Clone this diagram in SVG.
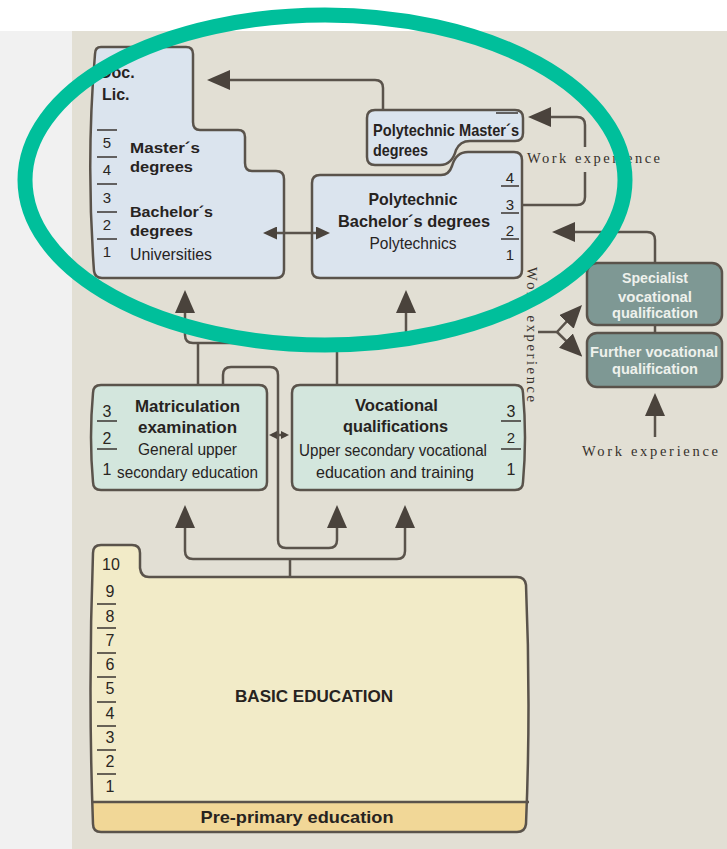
<svg xmlns="http://www.w3.org/2000/svg" width="727" height="849" viewBox="0 0 727 849">
<style>
.box{stroke:#5a534b;stroke-width:2.5;stroke-linejoin:round}
.blue{fill:#dbe4ee}
.green{fill:#d3e6dd}
.teal{fill:#7e9894}
.yel{fill:#f2ebc8}
.con{fill:none;stroke:#5a534b;stroke-width:2.5;stroke-linejoin:round}
.sep{stroke:#3a3530;stroke-width:1.5}
.b{font-family:'Liberation Sans',Arial,sans-serif;font-weight:bold;fill:#27231f}
.r{font-family:'Liberation Sans Narrow','Liberation Sans',Arial,sans-serif;font-weight:normal;fill:#27231f}
.d{font-family:'Liberation Sans',Arial,sans-serif;font-weight:normal;fill:#2a2622;text-anchor:middle}
.w{font-family:'Liberation Sans',Arial,sans-serif;font-weight:bold;fill:#eef1ec;text-anchor:middle}
.s{font-family:'Liberation Serif','Times New Roman',serif;fill:#36312c;font-size:14.5px}
.m{text-anchor:middle}
</style>
<defs>
<marker id="ah" viewBox="0 0 23 20" refX="14" refY="10" markerWidth="23" markerHeight="20" markerUnits="userSpaceOnUse" orient="auto-start-reverse">
<path d="M0,0 L23,10 L0,20 Z" fill="#4a433c"/>
</marker>
<marker id="ahs" viewBox="0 0 14 13" refX="8" refY="6.5" markerWidth="14" markerHeight="13" markerUnits="userSpaceOnUse" orient="auto-start-reverse">
<path d="M0,0 L14,6.5 L0,13 Z" fill="#4a433c"/>
</marker>
<marker id="aht" viewBox="0 0 8 8" refX="5" refY="4" markerWidth="8" markerHeight="8" markerUnits="userSpaceOnUse" orient="auto-start-reverse">
<path d="M0,0 L8,4 L0,8 Z" fill="#4a433c"/>
</marker>
<path id="basicShape" d="M101,545 H132 Q140,545 140,553 V568 Q141,577 149,577 H517 Q525,577 526,585 Q531,705 526,824 Q525,832 517,832 H101 Q93,832 93,824 Q88,690 93,553 Q93,545 101,545 Z"/>
<clipPath id="basicClip"><use href="#basicShape"/></clipPath>
</defs>

<rect x="0" y="0" width="727" height="849" fill="#ffffff"/>
<rect x="0" y="31" width="72" height="818" fill="#f1f1f1"/>
<rect x="72" y="31" width="655" height="818" fill="#e2dfd4"/>

<g id="universities">
<path class="box blue" d="M101,47 H186 Q193,47 193,54 V122 Q193,130 200,130 H238 Q245,130 245,137 V163 Q245,171 252,171 H276 Q284,171 284,179 V270 Q284,278 276,278 H102 Q95,278 94,271 Q86,160 95,54 Q95,47 101,47 Z"/>
<text class="b" x="100" y="78" font-size="16">Doc.</text>
<text class="b" x="102" y="100" font-size="16">Lic.</text>
<g class="sep">
<line x1="97" y1="130" x2="117" y2="130"/>
<line x1="97" y1="157" x2="117" y2="157"/>
<line x1="97" y1="184" x2="117" y2="184"/>
<line x1="97" y1="212" x2="117" y2="212"/>
<line x1="97" y1="239" x2="117" y2="239"/>
</g>
<text class="d" x="107" y="148" font-size="15">5</text>
<text class="d" x="107" y="175" font-size="15">4</text>
<text class="d" x="107" y="203" font-size="15">3</text>
<text class="d" x="107" y="230" font-size="15">2</text>
<text class="d" x="107" y="257" font-size="15">1</text>
<text class="b" x="130" y="153" font-size="15.5" textLength="70" lengthAdjust="spacingAndGlyphs">Master´s</text>
<text class="b" x="130" y="172" font-size="15.5" textLength="63" lengthAdjust="spacingAndGlyphs">degrees</text>
<text class="b" x="130" y="217" font-size="15.5" textLength="83" lengthAdjust="spacingAndGlyphs">Bachelor´s</text>
<text class="b" x="130" y="236" font-size="15.5" textLength="63" lengthAdjust="spacingAndGlyphs">degrees</text>
<text class="r" x="130" y="260" font-size="16.5" textLength="82" lengthAdjust="spacingAndGlyphs">Universities</text>
</g>

<g id="poly-masters">
<path class="box blue" d="M375,110 H515 Q523,110 523,118 V133 Q523,141 515,141 H470 Q460,141 456,150 Q452,165 440,165 H375 Q367,165 367,157 V118 Q367,110 375,110 Z"/>
<line class="sep" x1="496" y1="113" x2="518" y2="113"/>
<text class="b" x="373" y="136" font-size="17" textLength="146" lengthAdjust="spacingAndGlyphs">Polytechnic Master´s</text>
<text class="b" x="373" y="156" font-size="17" textLength="55" lengthAdjust="spacingAndGlyphs">degrees</text>
</g>

<g id="polytechnics">
<path class="box blue" d="M320,175 H441 Q449,175 452,166 Q456,152 468,152 H514 Q522,152 522,160 V270 Q522,278 514,278 H320 Q312,278 312,270 V183 Q312,175 320,175 Z"/>
<g class="sep">
<line x1="501" y1="186" x2="519" y2="186"/>
<line x1="501" y1="213" x2="519" y2="213"/>
<line x1="501" y1="239" x2="519" y2="239"/>
</g>
<text class="d" x="510" y="183" font-size="15">4</text>
<text class="d" x="510" y="210" font-size="15">3</text>
<text class="d" x="510" y="236" font-size="15">2</text>
<text class="d" x="510" y="260" font-size="15">1</text>
<text class="b m" x="413" y="205" font-size="16.5" textLength="89" lengthAdjust="spacingAndGlyphs">Polytechnic</text>
<text class="b m" x="414" y="227" font-size="16.5" textLength="152" lengthAdjust="spacingAndGlyphs">Bachelor´s degrees</text>
<text class="r m" x="413" y="249" font-size="17" textLength="87" lengthAdjust="spacingAndGlyphs">Polytechnics</text>
</g>

<g id="matriculation">
<path class="box green" d="M101,385 H259 Q267,385 267,393 V482 Q267,490 259,490 H101 Q93,490 93,482 Q89,437 93,393 Q93,385 101,385 Z"/>
<g class="sep">
<line x1="97" y1="421" x2="117" y2="421"/>
<line x1="97" y1="449" x2="117" y2="449"/>
</g>
<text class="d" x="107" y="417" font-size="16">3</text>
<text class="d" x="107" y="444" font-size="16">2</text>
<text class="d" x="107" y="475" font-size="16">1</text>
<text class="b m" x="187.5" y="412" font-size="16" textLength="105" lengthAdjust="spacingAndGlyphs">Matriculation</text>
<text class="b m" x="187.5" y="433" font-size="16" textLength="99" lengthAdjust="spacingAndGlyphs">examination</text>
<text class="r m" x="187.5" y="455" font-size="17" textLength="99" lengthAdjust="spacingAndGlyphs">General upper</text>
<text class="r m" x="187.5" y="478" font-size="17" textLength="141" lengthAdjust="spacingAndGlyphs">secondary education</text>
</g>

<g id="vocational">
<path class="box green" d="M300,385 H515 Q523,385 523,393 Q527,437 523,482 Q523,490 515,490 H300 Q292,490 292,482 V393 Q292,385 300,385 Z"/>
<g class="sep">
<line x1="501" y1="421" x2="521" y2="421"/>
<line x1="501" y1="449" x2="521" y2="449"/>
</g>
<text class="d" x="511" y="417" font-size="16">3</text>
<text class="d" x="511" y="443" font-size="15">2</text>
<text class="d" x="511" y="475" font-size="16">1</text>
<text class="b m" x="396.5" y="411" font-size="16" textLength="83" lengthAdjust="spacingAndGlyphs">Vocational</text>
<text class="b m" x="395.5" y="432" font-size="16" textLength="105" lengthAdjust="spacingAndGlyphs">qualifications</text>
<text class="r m" x="393" y="456" font-size="16" textLength="188" lengthAdjust="spacingAndGlyphs">Upper secondary vocational</text>
<text class="r m" x="395" y="478" font-size="17" textLength="158" lengthAdjust="spacingAndGlyphs">education and training</text>
</g>

<g id="specialist">
<rect class="box teal" x="587" y="263" width="135" height="62" rx="10"/>
<text class="w" x="655" y="283" font-size="14" textLength="66" lengthAdjust="spacingAndGlyphs">Specialist</text>
<text class="w" x="655" y="302" font-size="14" textLength="74" lengthAdjust="spacingAndGlyphs">vocational</text>
<text class="w" x="655" y="318" font-size="14" textLength="86" lengthAdjust="spacingAndGlyphs">qualification</text>
</g>

<g id="further">
<rect class="box teal" x="587" y="333" width="135" height="54" rx="10"/>
<text class="w" x="654" y="357" font-size="14" textLength="128" lengthAdjust="spacingAndGlyphs">Further vocational</text>
<text class="w" x="655" y="374" font-size="14" textLength="86" lengthAdjust="spacingAndGlyphs">qualification</text>
</g>

<g id="work-experience-labels">
<text class="s" x="527" y="163" textLength="133" lengthAdjust="spacing">Work experience</text>
<text class="s" transform="translate(527,267) rotate(90)" textLength="135" lengthAdjust="spacing">Work experience</text>
<text class="s" x="582" y="456" textLength="136" lengthAdjust="spacing">Work experience</text>
</g>

<g id="basic-education">
<use href="#basicShape" class="yel"/>
<rect x="80" y="802" width="460" height="40" fill="#f1d797" clip-path="url(#basicClip)"/>
<line x1="92" y1="802" x2="529" y2="802" stroke="#5a534b" stroke-width="2.5"/>
<use href="#basicShape" fill="none" stroke="#5a534b" stroke-width="2.5"/>
<g class="sep">
<line x1="97" y1="604" x2="116" y2="604"/>
<line x1="97" y1="628" x2="116" y2="628"/>
<line x1="97" y1="653" x2="116" y2="653"/>
<line x1="97" y1="677" x2="116" y2="677"/>
<line x1="97" y1="702" x2="116" y2="702"/>
<line x1="97" y1="726" x2="116" y2="726"/>
<line x1="97" y1="750" x2="116" y2="750"/>
<line x1="97" y1="774" x2="116" y2="774"/>
</g>
<text class="d" x="111" y="570" font-size="16">10</text>
<text class="d" x="110" y="597" font-size="16">9</text>
<text class="d" x="110" y="622" font-size="16">8</text>
<text class="d" x="110" y="646" font-size="16">7</text>
<text class="d" x="110" y="670" font-size="16">6</text>
<text class="d" x="110" y="694" font-size="16">5</text>
<text class="d" x="110" y="719" font-size="16">4</text>
<text class="d" x="110" y="743" font-size="16">3</text>
<text class="d" x="110" y="767" font-size="16">2</text>
<text class="d" x="110" y="792" font-size="16">1</text>
<text class="b m" x="314" y="702" font-size="17" textLength="158" lengthAdjust="spacingAndGlyphs">BASIC EDUCATION</text>
<text class="b m" x="297" y="823" font-size="17" textLength="193" lengthAdjust="spacingAndGlyphs">Pre-primary education</text>
</g>

<g id="connectors">
<path class="con" d="M383,110 V88 Q383,80 375,80 H216" marker-end="url(#ah)"/>
<path class="con" d="M269,233 H324" marker-start="url(#ahs)" marker-end="url(#ahs)"/>
<path class="con" d="M522,205 H577 Q585,205 585,197 V172"/>
<path class="con" d="M585,147 V125 Q585,117 577,117 H537" marker-end="url(#ah)"/>
<path class="con" d="M655,263 V240 Q655,232 647,232 H561" marker-end="url(#ah)"/>
<path class="con" d="M538,332 H557 L575.9,311.6" marker-end="url(#ah)"/>
<path class="con" d="M557,332 L575.9,350.4" marker-end="url(#ah)"/>
<path class="con" d="M655,325 V333"/>
<path class="con" d="M655,437 V402" marker-end="url(#ah)"/>
<path class="con" d="M185,299 V335 Q185,343 193,343 H398 Q406,343 406,335 V299" marker-start="url(#ah)" marker-end="url(#ah)"/>
<path class="con" d="M198,385 V343"/>
<path class="con" d="M337,385 V343"/>
<path class="con" d="M272,435 H286" marker-start="url(#aht)" marker-end="url(#aht)"/>
<path class="con" d="M223,385 V375 Q223,367 231,367 H270 Q278,367 278,375 V540 Q278,548 286,548 H329 Q337,548 337,540 V514" marker-end="url(#ah)"/>
<path class="con" d="M185,514 V551 Q185,559 193,559 H397 Q405,559 405,551 V514" marker-start="url(#ah)" marker-end="url(#ah)"/>
<path class="con" d="M290,559 V577"/>
</g>

<ellipse id="highlight" cx="325" cy="180" rx="300" ry="165" fill="none" stroke="#00bf9b" stroke-width="15"/>
</svg>
